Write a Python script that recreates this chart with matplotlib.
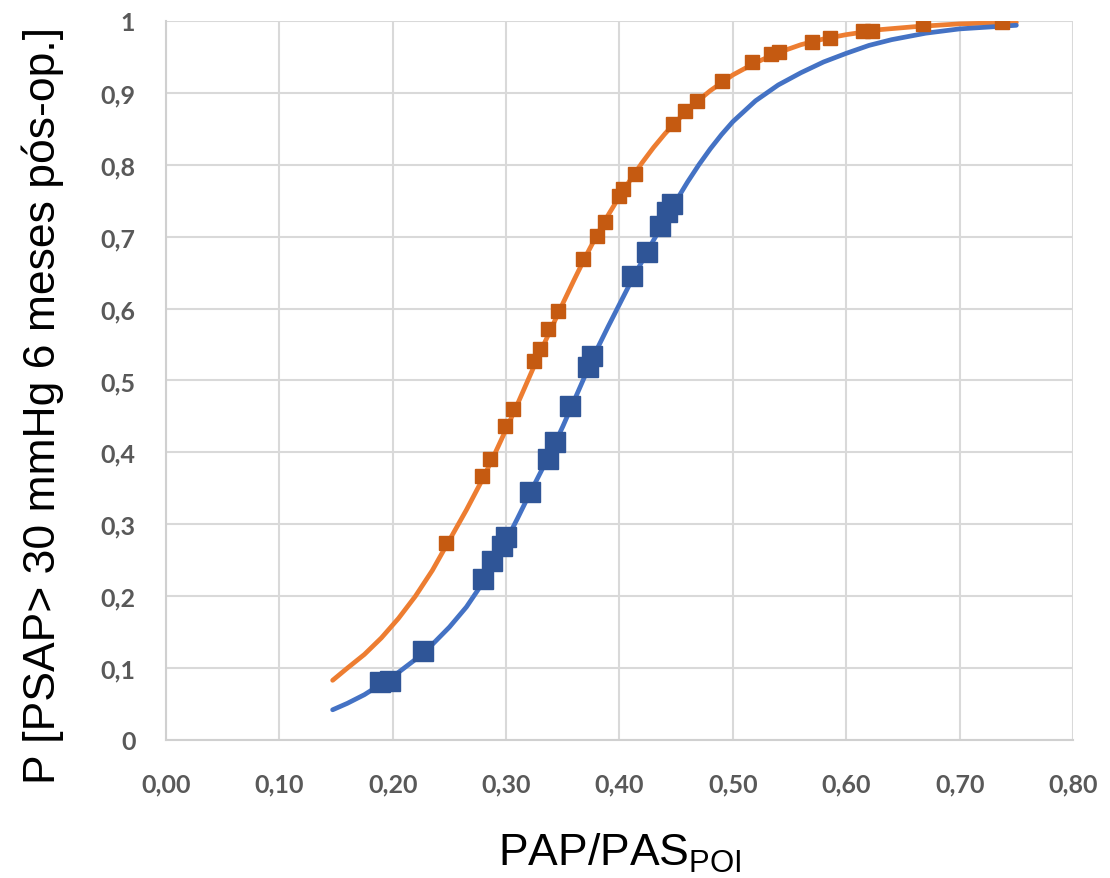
import matplotlib
matplotlib.use("Agg")
import matplotlib.pyplot as plt
import numpy as np

# fitted curves (PAP/PAS ratio vs probability)
orange_curve_x = [0.147, 0.160, 0.175, 0.190, 0.205, 0.220, 0.235, 0.250, 0.265, 0.280,
                  0.290, 0.300, 0.310, 0.320, 0.330, 0.340, 0.350, 0.360, 0.370, 0.380,
                  0.390, 0.400, 0.410, 0.420, 0.430, 0.440, 0.450, 0.460, 0.470, 0.480,
                  0.500, 0.520, 0.540, 0.560, 0.580, 0.600, 0.630, 0.660, 0.700, 0.750]
orange_curve_y = [0.083, 0.100, 0.119, 0.142, 0.169, 0.200, 0.236, 0.278, 0.320, 0.365,
                  0.398, 0.432, 0.467, 0.503, 0.539, 0.573, 0.607, 0.640, 0.672, 0.702,
                  0.730, 0.756, 0.780, 0.803, 0.824, 0.843, 0.860, 0.876, 0.890, 0.903,
                  0.925, 0.942, 0.956, 0.967, 0.975, 0.981, 0.988, 0.992, 0.996, 0.998]

blue_curve_x = [0.147, 0.160, 0.175, 0.190, 0.205, 0.220, 0.235, 0.250, 0.265, 0.280,
                0.290, 0.300, 0.310, 0.320, 0.330, 0.340, 0.350, 0.360, 0.370, 0.380,
                0.390, 0.400, 0.410, 0.420, 0.430, 0.440, 0.450, 0.460, 0.470, 0.480,
                0.490, 0.500, 0.520, 0.540, 0.560, 0.580, 0.600, 0.620, 0.640, 0.670,
                0.700, 0.750]
blue_curve_y = [0.042, 0.051, 0.063, 0.078, 0.094, 0.112, 0.133, 0.157, 0.185, 0.220,
                0.247, 0.277, 0.308, 0.340, 0.371, 0.402, 0.436, 0.472, 0.508, 0.543,
                0.575, 0.606, 0.637, 0.666, 0.695, 0.722, 0.750, 0.776, 0.800, 0.822,
                0.842, 0.860, 0.889, 0.911, 0.928, 0.943, 0.955, 0.966, 0.974, 0.983,
                0.989, 0.994]

# individual patients
orange_pts_x = [0.247, 0.279, 0.286, 0.299, 0.306, 0.325, 0.330, 0.337, 0.346, 0.368,
                0.380, 0.387, 0.400, 0.403, 0.414, 0.447, 0.458, 0.468, 0.490, 0.517,
                0.534, 0.541, 0.570, 0.586, 0.615, 0.623, 0.668, 0.737]
orange_pts_y = [0.274, 0.367, 0.391, 0.437, 0.460, 0.527, 0.544, 0.572, 0.597, 0.669,
                0.701, 0.720, 0.757, 0.766, 0.787, 0.857, 0.875, 0.889, 0.917, 0.943,
                0.954, 0.957, 0.971, 0.977, 0.986, 0.986, 0.996, 0.999]

blue_pts_x = [0.189, 0.198, 0.227, 0.280, 0.288, 0.296, 0.300, 0.321, 0.337, 0.343,
              0.356, 0.372, 0.376, 0.411, 0.424, 0.436, 0.442, 0.446]
blue_pts_y = [0.081, 0.082, 0.124, 0.224, 0.249, 0.270, 0.283, 0.345, 0.391, 0.414,
              0.465, 0.519, 0.534, 0.646, 0.679, 0.715, 0.734, 0.745]

x_ticks = [0.0, 0.1, 0.2, 0.3, 0.4, 0.5, 0.6, 0.7, 0.8]
x_labels = ["0,00", "0,10", "0,20", "0,30", "0,40", "0,50", "0,60", "0,70", "0,80"]
y_ticks = [0.0, 0.1, 0.2, 0.3, 0.4, 0.5, 0.6, 0.7, 0.8, 0.9, 1.0]
y_labels = ["0", "0,1", "0,2", "0,3", "0,4", "0,5", "0,6", "0,7", "0,8", "0,9", "1"]

fig = plt.figure(figsize=(11.1, 8.79), dpi=100)
ax = fig.add_axes([0.1495, 0.157, 0.8172, 0.818])

ax.plot(orange_curve_x, orange_curve_y, color="#ED7D31", lw=3.4, solid_capstyle="round",
        solid_joinstyle="round", zorder=3)
ax.plot(blue_curve_x, blue_curve_y, color="#4472C4", lw=3.4, solid_capstyle="round",
        solid_joinstyle="round", zorder=3)
ax.plot(orange_pts_x, orange_pts_y, ls="none", marker="s", ms=10.5, color="#C55A11", zorder=4)
ax.plot(blue_pts_x, blue_pts_y, ls="none", marker="s", ms=14, color="#2F5597", zorder=4)

ax.set_xlim(0, 0.8)
ax.set_ylim(0, 1)
ax.set_xticks(x_ticks)
ax.set_xticklabels(x_labels)
ax.set_yticks(y_ticks)
ax.set_yticklabels(y_labels)
ax.grid(True, color="#D9D9D9", lw=1.5)
ax.set_axisbelow(True)
for s in ["top", "right"]:
    ax.spines[s].set_visible(False)
for s in ["left", "bottom"]:
    ax.spines[s].set_color("#D0D0D0")
    ax.spines[s].set_linewidth(1.5)

ax.tick_params(length=0)
ax.tick_params(axis="x", pad=23)
ax.tick_params(axis="y", pad=22)
for lab in ax.get_xticklabels() + ax.get_yticklabels():
    lab.set_fontfamily("Lato")
    lab.set_fontweight("bold")
    lab.set_fontsize(18)
    lab.set_color("#595959")

ax.set_xlabel(r"PAP/PAS$_{\mathregular{POI}}$", fontsize=32, family="Liberation Sans", labelpad=26)
ax.set_ylabel("P [PSAP> 30 mmHg 6 meses pós-op.]", fontsize=32, family="Liberation Sans")
ax.yaxis.set_label_coords(-0.112, 0.467)

fig.savefig("out.png", dpi=100)
